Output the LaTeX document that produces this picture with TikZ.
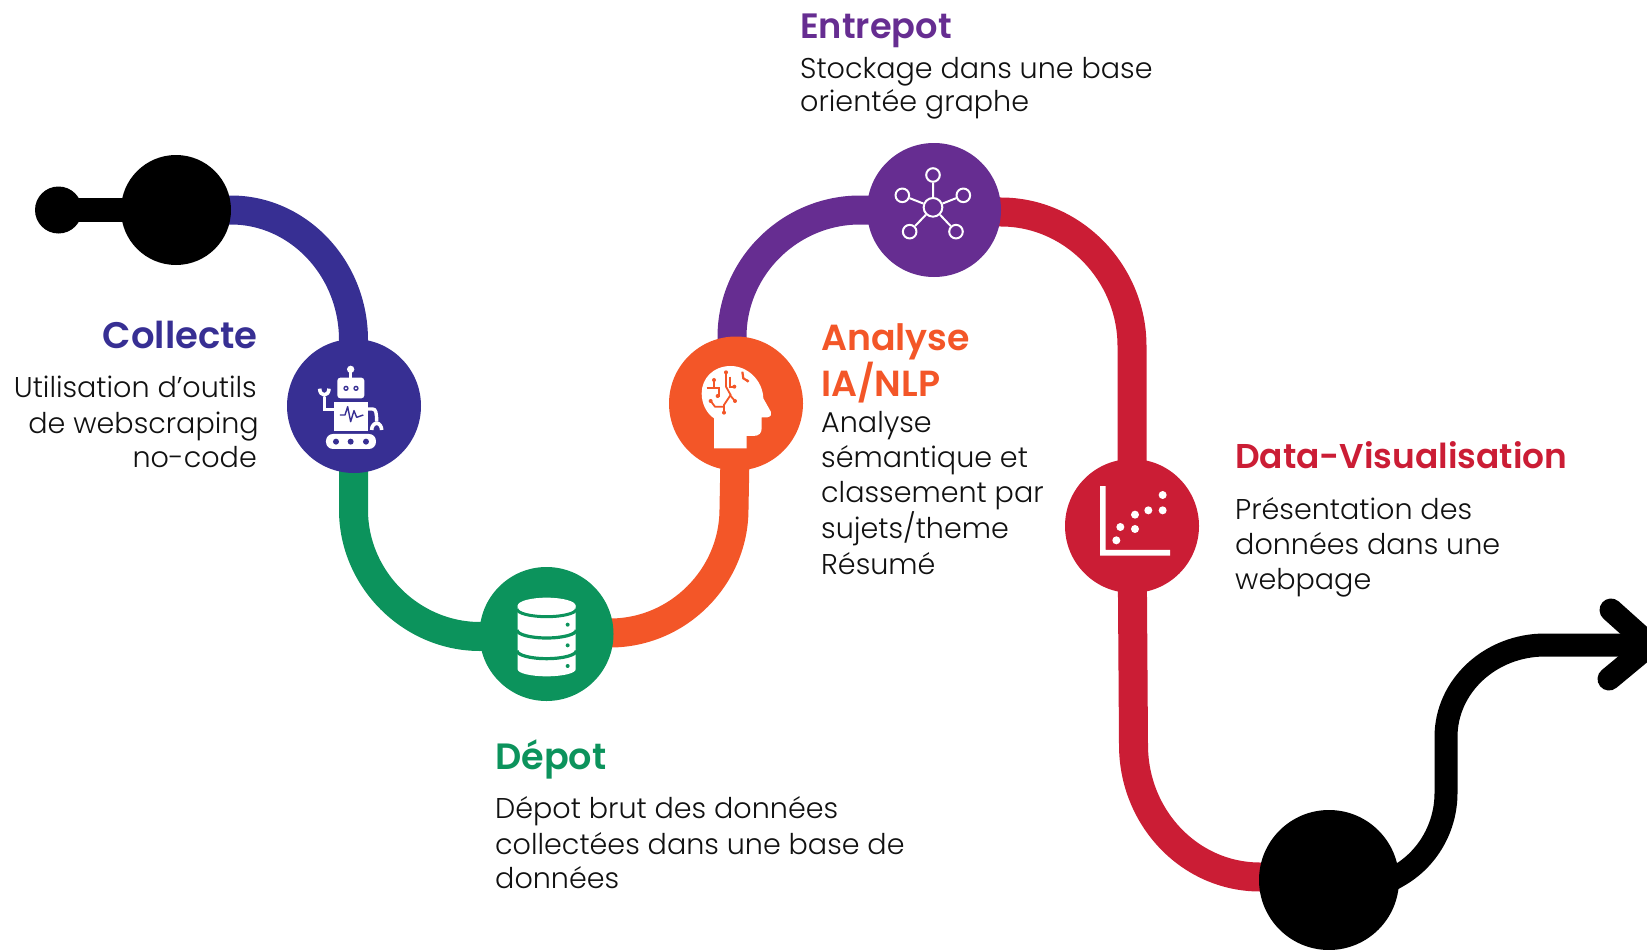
\documentclass[tikz,border=0pt]{standalone}
\usepackage{fontspec}
\setmainfont{Poppins Light}
\newfontfamily\headfont{Poppins SemiBold}
\usetikzlibrary{backgrounds}
\definecolor{cblue}{HTML}{372F93}
\definecolor{cgreen}{HTML}{0C935C}
\definecolor{corange}{HTML}{F35628}
\definecolor{cpurple}{HTML}{662D91}
\definecolor{cred}{HTML}{CB1D35}
\definecolor{ctext}{HTML}{111111}
\tikzset{
  hub/.style={circle,inner sep=0pt,minimum size=134pt,fill=#1},
  blackhub/.style={circle,inner sep=0pt,fill=black},
  link/.style={line width=29pt,draw=#1},
  tail/.style={line width=23pt,draw=black},
  headtext/.style n args={2}{inner sep=0pt,font=\headfont\fontsize{#2}{#2}\selectfont,text=#1},
  bodytext/.style={inner sep=0pt,font=\fontsize{28.6}{35}\selectfont,text=ctext},
  icon/.style={x=0.3333pt,y=-0.3333pt},
  netnode/.style={circle,draw=white,line width=2pt,inner sep=0pt,minimum size=#1},
  trace/.style={draw=corange,line width=1.8pt},
}
\begin{document}
\begin{tikzpicture}[x=1pt,y=-1pt]
\useasboundingbox (0,0) rectangle (1647,950);
\clip (0,0) rectangle (1647,950);

% hubs
\node[blackhub,minimum size=47pt] (dot) at (58.5,210) {};
\node[blackhub,minimum size=110pt] (begin) at (176,210) {};
\node[hub=cblue] (robot) at (354,406) {};
\node[hub=cgreen] (db) at (546.5,634) {};
\node[hub=corange] (brain) at (736,403.5) {};
\node[hub=cpurple] (net) at (934,210) {};
\node[hub=cred] (chart) at (1132,526) {};
\node[blackhub,minimum size=140pt] (end) at (1329,880) {};
\coordinate (tip) at (1650,645);

% connectors
\begin{scope}[on background layer]
\draw[line width=24pt] (dot.center) -- (begin.center);
\draw[link=cblue] (begin.center) -- (231,210) .. controls (298,210) and (353.5,268) .. (353.5,340) -- (robot.center);
\draw[link=cgreen] (robot.center) -- (353.5,510) .. controls (353.5,579) and (411,636.5) .. (480,636.5) -- (db.center);
\draw[link=corange] (db.center) -- (610,633) .. controls (678,633) and (734,577) .. (734,509) -- (brain.center);
\draw[link=cpurple] (brain.center) -- (732,337) .. controls (732,267) and (790,210) .. (860,210) -- (net.center);
\draw[link=cred] (net.center) -- (1001,212) .. controls (1073,212) and (1132,273) .. (1132,346) -- (chart.center);
\draw[link=cred] (chart.center) -- (1133.5,745) .. controls (1133.5,818) and (1190,877) .. (1260,877) -- (end.center);
\draw[tail] (end.center) -- (1372,891) -- (1398,876) .. controls (1428,859) and (1446,827) .. (1446,793) -- (1446,737) .. controls (1446,686) and (1490.5,645) .. (1545,645) -- (tip);
\draw[tail,line cap=round,line join=round] (1611,610) -- (tip) -- (1609,679);
\end{scope}

% robot icon
\begin{scope}[shift={(280,340)},icon]
\fill[white] (212,88) circle (11);
\draw[white,line width=2.5pt] (212,90) -- (212,115);
\fill[white,rounded corners=3pt] (172,113) rectangle (253,175);
\fill[cblue] (198,145) circle (8) (228,145) circle (8);
\fill[white] (198,145) circle (3.5) (228,145) circle (3.5);
\fill[white] (163,185) rectangle (263,272);
\draw[cblue,line width=1.4pt,line join=round] (180,225) -- (195,225) -- (203,200) -- (212,245) -- (222,212) -- (230,232) -- (250,225);
\fill[white,rounded corners=7pt] (138,282) rectangle (288,327);
\fill[cblue] (168,305) circle (9) (212,305) circle (9) (258,305) circle (9);
\draw[white,line width=3.4pt] (163,208) -- (133,208) -- (133,170);
\draw[white,line width=3.6pt] (119,146) arc (180:0:14 and 19);
\draw[white,line width=3.4pt] (263,207) -- (278,207) .. controls (288,207) and (290,220) .. (290,245);
\draw[white,line width=3.6pt] (275,270) arc (180:360:15 and 20);
\end{scope}

% head icon
\begin{scope}[shift={(660,330)},icon]
\fill[white] (162,355) -- (260,355) -- (260,318) -- (280,318) .. controls (298,318) and (305,308) .. (305,295) -- (305,262) -- (322,262) .. controls (333,260) and (336,252) .. (333,246) -- (310,205) .. controls (308,150) and (262,108) .. (212,108) .. controls (160,108) and (125,145) .. (125,190) .. controls (125,222) and (140,250) .. (162,265) -- cycle;
\draw[trace] (198,127) -- (198,170) -- (212,195) -- (192,225) -- (192,248);
\draw[trace] (210,140) -- (210,170) -- (223,170);
\draw[trace] (162,150) -- (162,175);
\draw[trace] (140,175) -- (178,175) -- (178,198) -- (173,198);
\draw[trace] (152,213) -- (165,230) -- (192,230);
\draw[trace] (212,198) -- (225,213);
\draw[trace,line width=2.2pt] (247,125) -- (250,145) -- (263,153);
\fill[corange] (198,127) circle (6) (223,170) circle (6) (162,150) circle (6) (173,198) circle (6) (152,213) circle (6) (192,248) circle (6) (225,213) circle (6) (263,153) circle (5);
\end{scope}

% database icon
\begin{scope}[shift={(475,560)},icon]
\fill[white] (215,137) ellipse (87 and 24);
\fill[white] (128,137) -- (302,137) -- (302,328) arc (0:180:87 and 21) -- cycle;
\draw[cgreen,line width=3pt] (126,147) arc (180:0:89 and 23);
\draw[cgreen,line width=3.2pt] (126,210) arc (180:0:89 and 24);
\draw[cgreen,line width=3.2pt] (126,272) arc (180:0:89 and 24);
\fill[cgreen] (278,194) circle (6) (278,256) circle (6) (278,318) circle (6);
\end{scope}

% network icon
\begin{scope}[shift={(860,135)},icon]
\node[netnode=18.7pt] (ctr) at (219,217) {};
\node[netnode=13.6pt] (s1) at (219,120) {};
\node[netnode=13.6pt] (s2) at (127,181) {};
\node[netnode=13.6pt] (s3) at (310,181) {};
\node[netnode=13.6pt] (s4) at (149,290) {};
\node[netnode=13.6pt] (s5) at (288,290) {};
\draw[white,line width=2pt] (ctr) -- (s1) (ctr) -- (s2) (ctr) -- (s3) (ctr) -- (s4) (ctr) -- (s5);
\end{scope}

% scatter icon
\begin{scope}[shift={(1060,455)},icon]
\fill[white] (120,93) -- (137,93) -- (137,285) -- (330,285) -- (330,302) -- (120,302) -- cycle;
\fill[white] (169,256) circle (12) (181,216) circle (12) (225,222) circle (12) (225,179) circle (12) (265,166) circle (12) (308,166) circle (12) (308,120) circle (12);
\end{scope}

% texts
\node[headtext={cblue}{37},anchor=base east] (t1) at (258,348) {Collecte};
\node[bodytext,anchor=base east] (b11) at (257,397.5) {Utilisation d’outils};
\node[bodytext,anchor=base east] (b12) at (259,433.5) {de webscraping};
\node[bodytext,anchor=base east] (b13) at (257,467.5) {no-code};

\node[headtext={cgreen}{36.6},anchor=base west] (t2) at (495,769) {Dépot};
\node[bodytext,anchor=base west] (b21) at (495,818) {Dépot brut des données};
\node[bodytext,anchor=base west] (b22) at (495,854) {collectées dans une base de};
\node[bodytext,anchor=base west] (b23) at (495,888) {données};

\node[headtext={corange}{36.3},anchor=base west] (t3) at (821,350) {Analyse};
\node[headtext={corange}{36.3},anchor=base west] (t3b) at (821,396) {IA/NLP};
\node[bodytext,anchor=base west] (b31) at (821,432) {Analyse};
\node[bodytext,anchor=base west] (b32) at (821,467.5) {sémantique et};
\node[bodytext,anchor=base west] (b33) at (821,502) {classement par};
\node[bodytext,anchor=base west] (b34) at (821,538) {sujets/theme};
\node[bodytext,anchor=base west] (b35) at (821,574.5) {Résumé};

\node[headtext={cpurple}{35.2},anchor=base west] (t4) at (800,39) {Entrepot};
\node[bodytext,anchor=base west] (b41) at (800,78) {Stockage dans une base};
\node[bodytext,anchor=base west] (b42) at (800,111) {orientée graphe};

\node[headtext={cred}{34.4},anchor=base west] (t5) at (1235,468) {Data-Visualisation};
\node[bodytext,anchor=base west] (b51) at (1235,519) {Présentation des};
\node[bodytext,anchor=base west] (b52) at (1235,554) {données dans une};
\node[bodytext,anchor=base west] (b53) at (1235,589) {webpage};
\end{tikzpicture}
\end{document}
